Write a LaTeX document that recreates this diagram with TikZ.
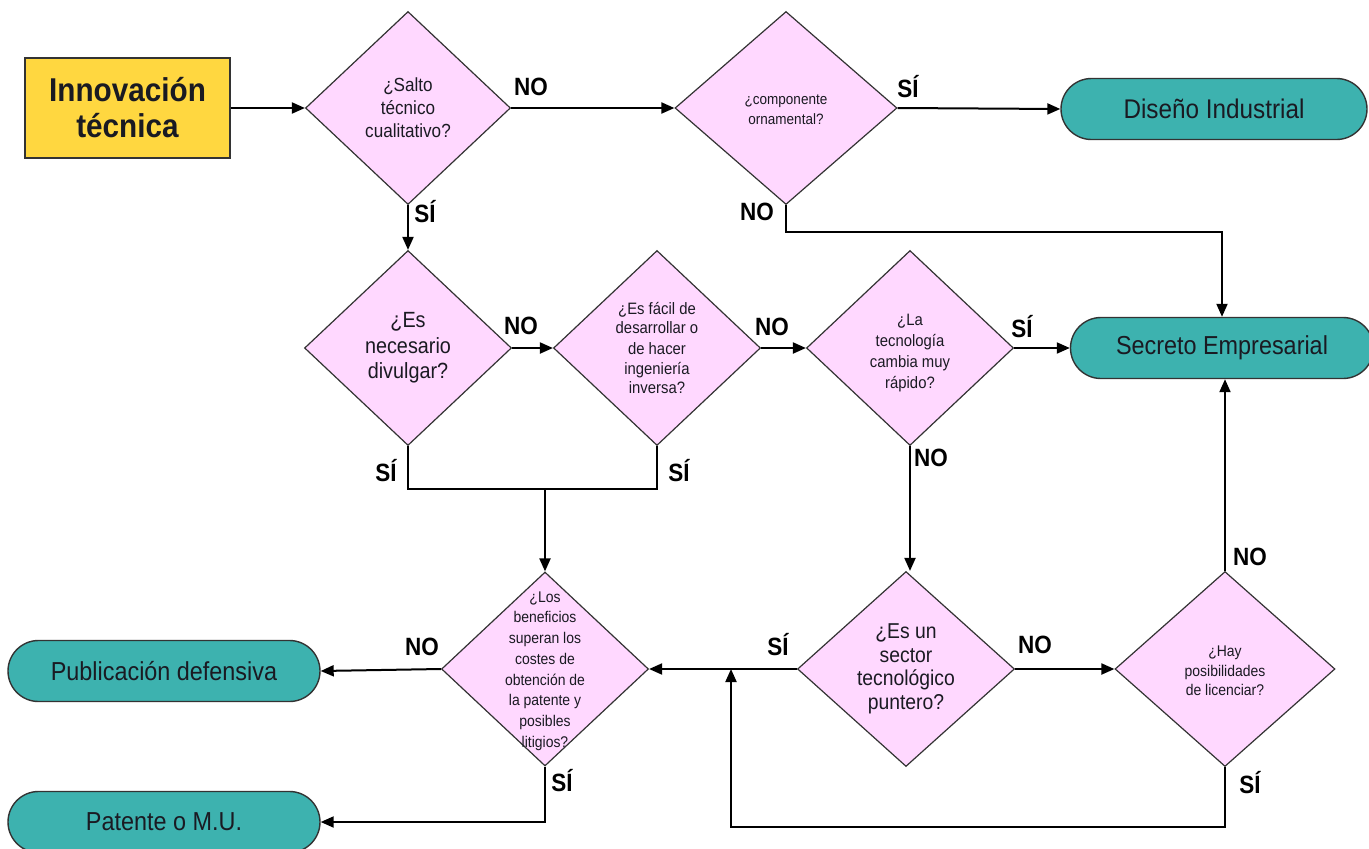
\documentclass[tikz,border=0pt]{standalone}
\usepackage{fontspec}
\setmainfont[FakeStretch=0.9]{Liberation Sans}
\usetikzlibrary{shapes.geometric,shapes.misc,arrows.meta}
\definecolor{pinkfill}{HTML}{FFD8FF}
\definecolor{tealfill}{HTML}{3DB2AF}
\definecolor{goldfill}{HTML}{FFD740}
\definecolor{edge}{HTML}{333333}
\definecolor{txt}{HTML}{1A1A22}
\newcommand{\fsz}[2]{\fontsize{#1}{#2}\selectfont}
\begin{document}
\begin{tikzpicture}[x=1pt,y=-1pt,
  dia/.style={diamond, draw=edge, fill=pinkfill, line width=1.2pt, inner sep=0pt},
  dtext/.style={align=center, inner sep=0pt, text=txt},
  term/.style={rounded rectangle, draw=edge, fill=tealfill, line width=1.4pt, inner sep=0pt, minimum height=61pt, text=txt, font=\fsz{26}{30}},
  conn/.style={line width=2pt, draw=black},
  arr/.style={conn, -{Triangle[length=13pt,width=11pt]}},
  lab/.style={font=\bfseries\fsz{25}{28}, inner sep=0pt, text=black}]
\useasboundingbox (0,0) rectangle (1369,849);
\fill[white] (0,0) rectangle (1369,849);

% start box
\node[draw=edge, fill=goldfill, line width=1.4pt, minimum width=205pt, minimum height=100pt, align=center, font=\bfseries\fsz{33}{36}, text=txt] (start) at (127.5,108) {Innovación\\técnica};

% diamonds
\node[dia, minimum width=205pt, minimum height=193pt] (d1) at (408,108) {};
\node[dtext, font=\fsz{19}{23}] (t1) at (d1) {¿Salto\\técnico\\cualitativo?};

\node[dia, minimum width=222pt, minimum height=193pt] (d2) at (786,108) {};
\node[dtext, font=\fsz{15}{20}] (t2) at (786,110) {¿componente\\ornamental?};

\node[dia, minimum width=207pt, minimum height=195pt] (d3) at (408,348) {};
\node[dtext, font=\fsz{22}{25.5}] (t3) at (d3) {¿Es\\necesario\\divulgar?};

\node[dia, minimum width=207pt, minimum height=195pt] (d4) at (657,348) {};
\node[dtext, font=\fsz{16.5}{20}] (t4) at (d4) {¿Es fácil de\\desarrollar o\\de hacer\\ingeniería\\inversa?};

\node[dia, minimum width=207pt, minimum height=195pt] (d5) at (910,348) {};
\node[dtext, font=\fsz{16.5}{21}] (t5) at (910,353) {¿La\\tecnología\\cambia muy\\rápido?};

\node[dia, minimum width=207pt, minimum height=194pt] (d6) at (545,669) {};
\node[dtext, font=\fsz{15.5}{20.7}] (t6) at (545,671) {¿Los\\beneficios\\superan los\\costes de\\obtención de\\la patente y\\posibles\\litigios?};

\node[dia, minimum width=217pt, minimum height=195pt] (d7) at (906,669) {};
\node[dtext, font=\fsz{21.5}{23.5}] (t7) at (d7) {¿Es un\\sector\\tecnológico\\puntero?};

\node[dia, minimum width=220pt, minimum height=195pt] (d8) at (1225,669) {};
\node[dtext, font=\fsz{15.5}{19.5}] (t8) at (1225,671) {¿Hay\\posibilidades\\de licenciar?};

% terminals
\node[term, minimum width=306pt, font=\fsz{27}{30}] (dis) at (1214,109) {Diseño Industrial};
\node[term, minimum width=303pt] (sec) at (1222,348) {Secreto Empresarial};
\node[term, minimum width=312pt] (pub) at (164,671) {Publicación defensiva};
\node[term, minimum width=312pt] (pat) at (164,822) {Patente o M.U.};

% connectors
\draw[arr] (start.east) -- (d1.west);
\draw[arr] (d1.east) -- (d2.west);
\draw[arr] (d2.east) -- (dis.west);
\draw[arr] (d2.south) -- ++(0,27) -| (sec.north);
\draw[arr] (d1.south) -- (d3.north);
\draw[arr] (d3.east) -- (d4.west);
\draw[arr] (d4.east) -- (d5.west);
\draw[arr] (d5.east) -- (sec.west);
\draw[conn] (d3.south) -- ++(0,43) -| (d4.south);
\coordinate (m) at (545,488);
\draw[arr] (m) -- (d6.north);
\draw[arr] (d5.south) -- (d5.south |- d7.north);
\draw[arr] (d7.west) -- (d6.east);
\draw[arr] (d7.east) -- (d8.west);
\draw[arr] (d8.north) -- (d8.north |- sec.south);
\coordinate (j) at (731,669);
\draw[arr] (d8.south) -- ++(0,60) -| (j);
\draw[arr] (d6.west) -- (pub.east);
\draw[arr] (d6.south) |- (pat.east);

% labels
\node[lab] (l1) at (531,87) {NO};
\node[lab] (l2) at (425,212) {SÍ};
\node[lab] (l3) at (908,87) {SÍ};
\node[lab] (l4) at (757,212) {NO};
\node[lab] (l5) at (521,326) {NO};
\node[lab] (l6) at (386,471) {SÍ};
\node[lab] (l7) at (772,327) {NO};
\node[lab] (l8) at (679,471) {SÍ};
\node[lab] (l9) at (1022,327) {SÍ};
\node[lab] (l10) at (931,458) {NO};
\node[lab] (l11) at (778,645) {SÍ};
\node[lab] (l12) at (1035,645) {NO};
\node[lab] (l13) at (422,647) {NO};
\node[lab] (l14) at (562,781) {SÍ};
\node[lab] (l15) at (1250,557) {NO};
\node[lab] (l16) at (1250,783) {SÍ};
\end{tikzpicture}
\end{document}
